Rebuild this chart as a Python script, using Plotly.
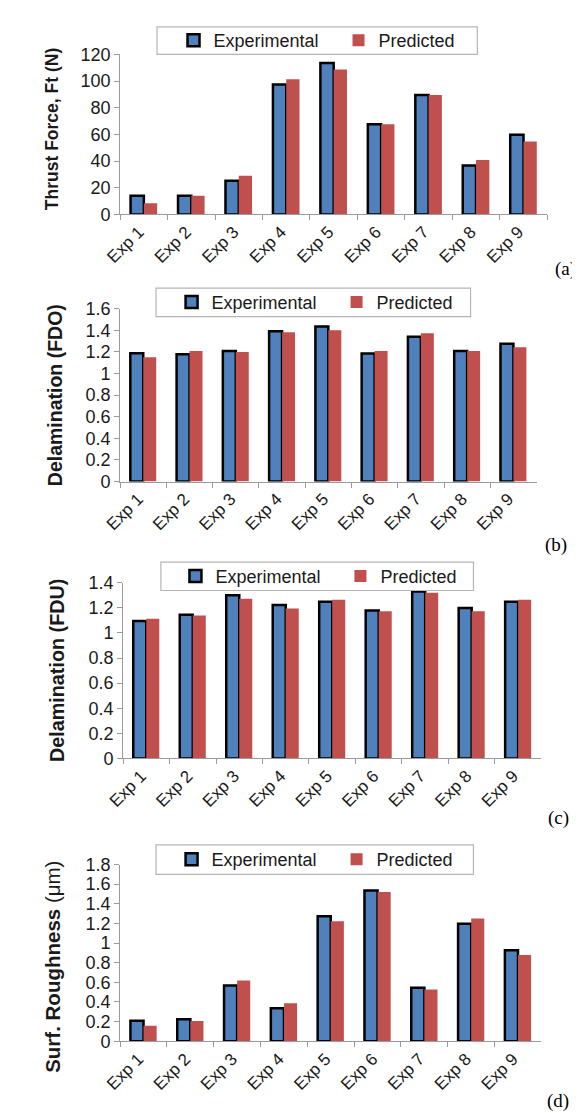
import plotly.graph_objects as go

W, H = 580, 1113

categories = ["Exp 1", "Exp 2", "Exp 3", "Exp 4", "Exp 5", "Exp 6", "Exp 7", "Exp 8", "Exp 9"]
series_names = ["Experimental", "Predicted"]

thrust_exp = [14.0, 14.0, 25.3, 97.4, 113.6, 67.6, 89.5, 36.6, 59.7]
thrust_pred = [8.3, 14.0, 29.0, 101.3, 108.7, 67.6, 89.5, 40.8, 54.6]

fdo_exp = [1.187, 1.178, 1.208, 1.390, 1.436, 1.184, 1.339, 1.208, 1.275]
fdo_pred = [1.150, 1.208, 1.199, 1.381, 1.400, 1.208, 1.372, 1.208, 1.242]

fdu_exp = [1.094, 1.144, 1.300, 1.222, 1.248, 1.178, 1.330, 1.199, 1.248]
fdu_pred = [1.113, 1.139, 1.272, 1.194, 1.264, 1.173, 1.320, 1.173, 1.264]

ra_exp = [0.210, 0.224, 0.568, 0.337, 1.273, 1.536, 0.544, 1.196, 0.928]
ra_pred = [0.157, 0.207, 0.618, 0.387, 1.222, 1.520, 0.528, 1.249, 0.878]

y_titles = ["<b>Thrust Force, Ft (N)</b>", "<b>Delamination (FDO)</b>",
            "<b>Delamination (FDU)</b>", "<b>Surf. Roughness </b>(μm)"]
panel_labels = ["(a)", "(b)", "(c)", "(d)"]
y_ranges = [[0, 120], [0, 1.6], [0, 1.4], [0, 1.8]]
y_dticks = [20, 0.2, 0.2, 0.2]

data = [(thrust_exp, thrust_pred), (fdo_exp, fdo_pred),
        (fdu_exp, fdu_pred), (ra_exp, ra_pred)]

# layout geometry (pixels)
plot_boxes = [(98, 538, 37, 200), (98, 527, 296, 472), (101, 532, 575, 754), (98, 532, 862, 1042)]
title_pos = [(28, 113, 17.5), (31, 384, 19.5), (33, 664, 19.8), (28, 966, 20.5)]
legend_boxes = [(136, 466, 9, 37), (135, 459, 275, 304), (140, 462, 554, 583), (135, 462, 842, 872)]
legend_left = [153, 151, 155, 151]
label_right = [(570, 256), (560, 537), (562, 815), (563, 1103)]

BLUE = "#4F81BD"
RED = "#C0504D"
AXIS = "#9a9a9a"
TXT = "#1a1a1a"
FONT = "Liberation Sans, Arial, sans-serif"


def px(v):
    return v / W


def py(v):
    return 1 - v / H


fig = go.Figure()
layout = dict(
    width=W, height=H, autosize=False,
    margin=dict(l=0, r=0, t=0, b=0),
    paper_bgcolor="white", plot_bgcolor="white",
    barmode="group", bargap=0.44, bargroupgap=0,
    font=dict(family=FONT, color=TXT, size=18),
    shapes=[], annotations=[],
)

for i in range(4):
    sfx = "" if i == 0 else str(i + 1)
    xa, ya = "x" + sfx, "y" + sfx
    lg = "legend" + sfx
    exp_vals, pred_vals = data[i]
    fig.add_trace(go.Bar(
        x=categories, y=exp_vals, name=series_names[0], xaxis=xa, yaxis=ya, legend=lg,
        marker=dict(color=BLUE, line=dict(color="black", width=2.5)),
    ))
    fig.add_trace(go.Bar(
        x=categories, y=pred_vals, name=series_names[1], xaxis=xa, yaxis=ya, legend=lg,
        marker=dict(color=RED, line=dict(width=0)),
    ))
    x0, x1, y0, y1 = plot_boxes[i]
    layout["xaxis" + sfx] = dict(
        domain=[px(x0), px(x1)], anchor=ya, type="category",
        showline=True, linecolor=AXIS, linewidth=1,
        ticks="outside", tickson="boundaries", ticklen=5, tickcolor=AXIS,
        tickangle=-45, tickfont=dict(size=17, color=TXT), showgrid=False,
        ticklabelshift=-5, fixedrange=True,
    )
    layout["yaxis" + sfx] = dict(
        domain=[py(y1), py(y0)], anchor=xa, range=y_ranges[i], dtick=y_dticks[i],
        tick0=0, showline=True, linecolor=AXIS, linewidth=1,
        ticks="outside", ticklen=5, tickcolor=AXIS, showgrid=False, zeroline=False,
        tickfont=dict(size=18, color=TXT), fixedrange=True,
    )
    # legend frame
    lx0, lx1, ly0, ly1 = legend_boxes[i]
    layout["shapes"].append(dict(
        type="rect", xref="paper", yref="paper",
        x0=px(lx0), x1=px(lx1), y0=py(ly1), y1=py(ly0),
        fillcolor="white", line=dict(color="#b5b5b5", width=1.2), layer="above",
    ))
    layout[lg] = dict(
        orientation="h", x=px(legend_left[i]), y=py((ly0 + ly1) / 2),
        xanchor="left", yanchor="middle", bgcolor="rgba(0,0,0,0)", borderwidth=0,
        font=dict(size=18, color=TXT), entrywidth=120, entrywidthmode="pixels",
        traceorder="normal",
    )
    tx, ty, ts = title_pos[i]
    layout["annotations"].append(dict(
        text=y_titles[i], textangle=-90, xref="paper", yref="paper",
        x=px(tx), y=py(ty), xanchor="center", yanchor="middle", showarrow=False,
        font=dict(size=ts, color=TXT, family=FONT),
    ))
    lbx, lby = label_right[i]
    layout["annotations"].append(dict(
        text=panel_labels[i], xref="paper", yref="paper",
        x=px(lbx), y=py(lby), xanchor="right", yanchor="middle", showarrow=False,
        font=dict(size=19, color="black", family="Liberation Serif, Times New Roman, serif"),
    ))

fig.update_layout(**layout)
fig.write_html("out.html")
